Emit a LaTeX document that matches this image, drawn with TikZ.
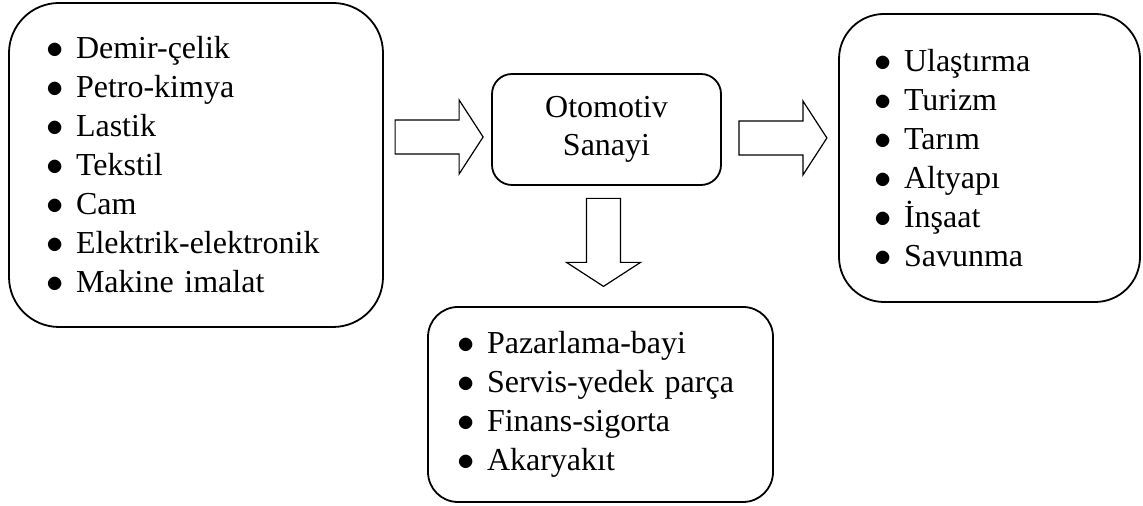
\documentclass[tikz,border=0pt]{standalone}
\usepackage{fontspec}
\setmainfont{Liberation Serif}
\usepackage{tikz}
\usetikzlibrary{calc,positioning}
\tikzset{
  listbox/.style={
      draw,
      line width=0.9pt,
      align=left,
      inner ysep=0pt,
      font=\fontsize{16}{19.5}\selectfont,
  },
  centrebox/.style={
      draw,
      line width=0.9pt,
      rounded corners=10pt,
      align=center,
      font=\fontsize{16}{19}\selectfont,
      minimum width=114.5pt,
      minimum height=55.5pt,
  },
  pics/blockarrow/.style={
      code={
        \draw[line width=0.6pt] (-44,-17) -- (20,-17) -- (20,-37) -- (44,0)
          -- (20,37) -- (20,17) -- (-44,17) -- cycle;
      }
  },
}
\newcommand{\madde}[1]{\makebox[15pt][l]{$\bullet$}#1}

\begin{document}
\begin{tikzpicture}[x=0.5pt,y=0.5pt]
  \useasboundingbox (0,0) rectangle (1143,506);

  \node[listbox, rounded corners=25pt, minimum height=162pt,
        inner xsep=18.5pt, text width=150pt] (girdi) at (196,341) {%
      \madde{Demir-çelik}\\
      \madde{Petro-kimya}\\
      \madde{Lastik}\\
      \madde{Tekstil}\\
      \madde{Cam}\\
      \madde{Elektrik-elektronik}\\
      \madde{Makine imalat}};

  \node[centrebox] (sanayi) at (606.5,376.5) {Otomotiv\\Sanayi};

  \node[listbox, rounded corners=22.5pt, minimum height=144pt,
        inner xsep=17.5pt, text width=115.5pt] (cikti) at (989.5,348) {%
      \madde{Ulaştırma}\\
      \madde{Turizm}\\
      \madde{Tarım}\\
      \madde{Altyapı}\\
      \madde{İnşaat}\\
      \madde{Savunma}};

  \node[listbox, rounded corners=15pt, minimum height=97.5pt,
        inner xsep=14.5pt, text width=143.5pt] (hizmet) at (600.5,101.5) {%
      \madde{Pazarlama-bayi}\\
      \madde{Servis-yedek parça}\\
      \madde{Finans-sigorta}\\
      \madde{Akaryakıt}};

  % block arrows between the boxes
  \pic at ($(sanayi.west)+(-52,-7.5)$) {blockarrow};
  \pic at ($(sanayi.east)+(61,-8.5)$) {blockarrow};
  \pic[rotate=-90] at ($(sanayi.south)+(-3,-56.5)$) {blockarrow};
\end{tikzpicture}
\end{document}
